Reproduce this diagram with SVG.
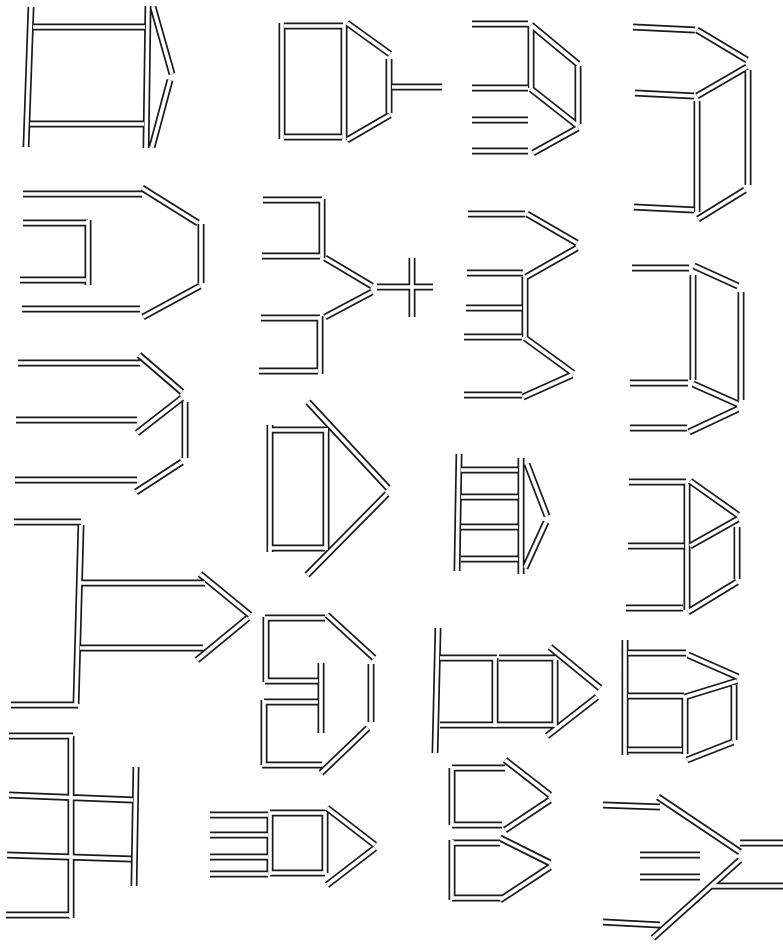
<svg xmlns="http://www.w3.org/2000/svg" xmlns:xlink="http://www.w3.org/1999/xlink" width="783" height="950" viewBox="0 0 783 950">
<style>
.outer{stroke:#1a1a1a;stroke-width:7;fill:none;stroke-linecap:butt}
.inner{stroke:#ffffff;stroke-width:3.6;fill:none;stroke-linecap:butt}
</style>
<defs>
<g id="sticks">
<path id="fig1" d="M31 7 L26 147 M33 27 L145 27 M30 124 L144 124 M148 6 L146 148 M153 7 L172 74 M170 80 L152 147"/>
<path id="fig2" d="M282 23 L282 139 M284 26 L343 26 M284 137 L342 137 M344 25 L344 140 M347 23 L390 54 M389 59 L389 113 M390 115 L347 140 M392 87 L442 87"/>
<path id="fig3" d="M472 24 L528 24 M531 25 L578 64 M578 66 L578 124 M531 26 L531 88 M472 88 L528 88 M531 89 L578 126 M472 120 L528 120 M578 128 L533 153 M472 151 L528 151"/>
<path id="fig4" d="M633 27 L695 30 M697 30 L747 60 M747 67 L697 96 M635 93 L694 96 M748 70 L748 185 M697 101 L697 212 M634 207 L694 210 M698 219 L745 190"/>
<path id="fig5" d="M23 194 L142 194 M142 188 L198 223 M201 224 L201 283 M200 286 L143 317 M22 309 L140 309 M23 223 L88 223 M88 220 L88 285 M20 280 L86 280"/>
<path id="fig6" d="M18 363 L140 363 M139 355 L182 392 M16 420 L137 420 M137 433 L182 398 M185 402 L185 458 M182 462 L136 492 M15 480 L137 480"/>
<path id="fig7" d="M14 522 L81 522 M81 525 L76 704 M11 705 L78 705 M80 583 L205 583 M80 648 L203 648 M200 574 L250 615 M248 618 L197 660"/>
<path id="fig8" d="M9 736 L73 736 M71 736 L71 918 M6 915 L70 915 M9 795 L133 800 M7 855 L131 859 M136 767 L134 886"/>
<path id="fig9" d="M263 200 L322 200 M322 199 L322 258 M262 256 L320 256 M325 258 L372 286 M372 292 L325 317 M261 318 L320 318 M320 316 L320 374 M259 371 L318 371 M377 287 L433 287 M412 258 L412 317"/>
<path id="fig10" d="M468 214 L525 214 M527 214 L577 243 M577 248 L526 277 M467 273 L523 273 M525 277 L525 337 M466 308 L522 308 M464 337 L522 337 M525 338 L573 373 M572 375 L523 397 M464 395 L522 395"/>
<path id="fig11" d="M632 268 L689 268 M694 266 L738 286 M693 275 L693 380 M741 292 L741 400 M630 383 L688 383 M693 384 L738 404 M738 409 L689 432 M630 428 L687 428"/>
<path id="fig12" d="M629 482 L686 482 M690 481 L738 515 M738 519 L690 546 M687 484 L687 610 M628 546 L684 546 M737 527 L737 579 M737 582 L688 612 M626 608 L683 608"/>
<path id="fig13" d="M625 640 L625 755 M628 653 L686 653 M688 655 L738 677 M737 681 L685 697 M628 696 L684 696 M685 697 L685 754 M734 685 L734 740 M733 742 L687 760 M628 750 L682 750"/>
<path id="fig14" d="M270 425 L270 552 M270 430 L328 430 M326 428 L326 550 M268 548 L325 548 M308 402 L388 488 M387 494 L307 575"/>
<path id="fig15" d="M265 618 L325 618 M266 617 L266 682 M265 681 L318 681 M321 663 L321 733 M264 702 L318 702 M264 700 L264 765 M262 765 L322 765 M327 615 L374 658 M371 664 L371 722 M368 728 L321 773"/>
<path id="fig16" d="M459 454 L457 571 M521 458 L521 574 M461 470 L518 470 M461 497 L518 497 M461 527 L518 527 M461 559 L518 559 M527 464 L547 516 M546 522 L525 568"/>
<path id="fig17" d="M438 628 L435 753 M440 658 L497 658 M499 658 L555 658 M440 725 L555 725 M495 658 L495 727 M555 660 L555 727 M550 647 L600 688 M597 697 L547 736"/>
<path id="fig18" d="M210 815 L268 815 M210 835 L268 835 M210 857 L268 857 M210 874 L268 874 M270 813 L325 813 M270 812 L270 875 M325 812 L325 873 M270 873 L325 873 M327 808 L375 845 M375 848 L327 885"/>
<path id="fig19" d="M452 768 L452 825 M452 768 L505 768 M505 760 L550 795 M550 800 L505 830 M452 825 L502 825 M452 840 L452 900 M452 843 L500 843 M500 838 L550 863 M550 867 L500 900 M452 898 L502 898"/>
<path id="fig20" d="M603 805 L660 807 M658 797 L740 852 M740 843 L783 843 M640 855 L700 855 M640 877 L700 877 M712 886 L783 886 M603 922 L660 925 M653 938 L740 860"/>
</g>
</defs>
<use xlink:href="#sticks" class="outer"/>
<use xlink:href="#sticks" class="inner"/>
</svg>
